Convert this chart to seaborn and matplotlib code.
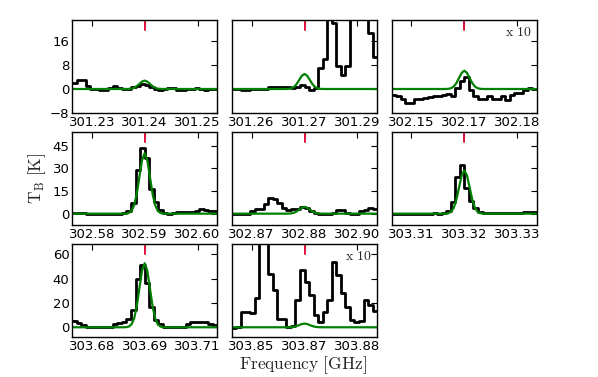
import numpy as np
import seaborn as sns
import matplotlib.pyplot as plt

# line rest frequencies (GHz), one per panel
centres = [301.240, 301.270, 302.170, 302.590, 302.880, 303.320, 303.690, 303.870]
tick_labels = [
    ["301.23", "301.24", "301.25"],
    ["301.26", "301.27", "301.29"],
    ["302.15", "302.17", "302.18"],
    ["302.58", "302.59", "302.60"],
    ["302.87", "302.88", "302.90"],
    ["303.31", "303.32", "303.33"],
    ["303.68", "303.69", "303.71"],
    ["303.85", "303.87", "303.88"],
]
scaled = [False, False, True, False, False, False, False, True]  # "x 10" panels

# observed spectra, 32 channels across each panel (K)
obs1 = [2, 3, 3, 1, 0, 0, -0.3, -0.3, 0.3, 1, 0.3, 0, 0, 0.5, 1, 1.5,
        1.3, 0.5, 0, -0.2, 0, 0.3, 0.2, -0.2, -0.3, 0, 0, 0.2, 0, -0.2, 0, 0]
obs2 = [0, 0, -0.2, -0.2, 0, 0, 0, 0, 0.5, 0.7, 0.8, 0.7, 0.5, 0.3, 0.8, 1.3,
        0.8, -0.2, 0.3, 7, 10, 30, 22, 7.5, 4.5, 7.5, 40, 40, 40, 40, 18.5, 10.5]
obs3 = [-1.9, -2.5, -3.3, -4.5, -4.5, -3.5, -3.3, -3.0, -2.7, -2.2, -2.5, -2.0,
        -1.8, -2.4, 0.2, 2.5, 4.0, -0.5, -2.3, -3.2, -3.5, -2.5, -3.3, -3.5,
        -2.5, -3.6, -2.0, -1.4, -1.2, -0.3, 0.3, 0]
obs4 = [0.5, 0.5, 0.3, 0, 0, -0.2, -0.5, -0.5, -0.5, -0.3, 0, 0.2, 1.5, 7, 29, 43.5,
        37, 16, 8, 2.5, 0.5, 0, 0.3, 1.2, 1.3, 1.0, 1.3, 1.5, 2.8, 2.5, 1.8, 1.8]
obs5 = [0, -0.3, -0.3, 0, 2, 2.9, 3.2, 6.7, 10.3, 9.5, 7, 4, 2.2, 2.9, 2.9, 4.5,
        3.6, 2, 0.3, 0, 0, -0.2, 0.5, 2.2, 2.2, 0.3, 0, 0, 2, 2.4, 3.6, 2.9]
obs6 = [0, -0.2, -0.3, -0.3, 0, 0, -0.2, 0, 0, 0.2, 0, 0.3, 1.5, 8, 24, 32,
        17, 8.5, 3.5, 1.3, 0.5, 0.2, 0.2, 0.2, 0.2, 0.2, 0.2, 0.2, 0.2, 1.3, 1.3, 0.8]
obs7 = [5.2, 3.5, 1.5, 0.3, 0, 0, 0, 0, 0, 2.5, 3.8, 4.5, 6.5, 14, 40, 51,
        36, 17, 6, 3, 0.5, 0, 0, 0, 0, 3, 4.7, 4.2, 4.7, 4.5, 3, 1.5]
obs8 = [-0.8, 0.3, 12.9, 12.9, 11.5, 24, 80, 80, 44, 31, 7, 7, 0, 1.4, 22.5, 47,
        37, 26.6, 10, 4.7, 12.9, 22.5, 54, 43, 28, 17, 6, 4.7, 5.5, 22.5, 18, 13.7]
observed = [obs1, obs2, obs3, obs4, obs5, obs6, obs7, obs8]

# model line profile (normalised) and its peak per panel
model_offsets = [-0.004, -0.0035, -0.003, -0.0025, -0.002, -0.0015, -0.001, -0.0005, 0,
                 0.0005, 0.001, 0.0015, 0.002, 0.0025, 0.003, 0.0035, 0.004]
model_shape = [0, 0.002, 0.011, 0.044, 0.135, 0.325, 0.607, 0.882, 1,
               0.882, 0.607, 0.325, 0.135, 0.044, 0.011, 0.002, 0]
model_peak = [2.8, 5.0, 6.1, 40, 4.5, 28.6, 52.7, 3.0]

row_ylim = [(-8, 23), (-7.5, 54), (-8, 68.5)]
row_yticks = [[-8, 0, 8, 16], [0, 15, 30, 45], [0, 20, 40, 60]]

half = 0.01375
nchan = 32

sns.set_style("white")
plt.rcParams["mathtext.fontset"] = "cm"
plt.rcParams["font.family"] = ["DejaVu Sans"]

fig, axes = plt.subplots(3, 3, figsize=(5.98, 3.77), dpi=100)
fig.subplots_adjust(left=0.1204, right=0.898, bottom=0.1061, top=0.947,
                    wspace=0.0998, hspace=0.204)
axes[2, 2].remove()

for i, c in enumerate(centres):
    row, col = divmod(i, 3)
    ax = axes[row, col]
    edges = c - half + np.arange(nchan + 1) * (2 * half / nchan)
    yobs = list(observed[i]) + [observed[i][-1]]
    sns.lineplot(x=edges, y=yobs, ax=ax, color="black", lw=2,
                 drawstyle="steps-post", estimator=None, sort=False)
    xm = [c - half] + [c + o for o in model_offsets] + [c + half]
    ym = [0] + [model_peak[i] * s for s in model_shape] + [0]
    sns.lineplot(x=xm, y=ym, ax=ax, color="green", lw=1.6,
                 estimator=None, sort=False)
    ax.axvline(c, ymin=0.89, ymax=1.0, color="crimson", lw=1.4)

    ax.set_xlim(c - half, c + half)
    ax.set_ylim(*row_ylim[row])
    ax.set_xticks([c - 0.01, c, c + 0.01])
    ax.set_xticklabels(tick_labels[i])
    ax.set_yticks(row_yticks[row])
    if col != 0:
        ax.set_yticklabels([])
    ax.tick_params(direction="in", length=4, width=0.8, top=True, right=True,
                   labelsize=9.5, pad=1.8, colors="black")
    for sp in ax.spines.values():
        sp.set_color("black")
        sp.set_linewidth(1.0)
    if scaled[i]:
        ax.text(0.965, 0.87, r"$\mathrm{x\ 10}$", transform=ax.transAxes,
                ha="right", va="center", fontsize=10)

fig.text(0.062, 0.528, r"$\mathrm{T_B\ [K]}$", rotation=90, ha="center",
         va="center", fontsize=12.5)
fig.text(0.507, 0.031, r"$\mathrm{Frequency\ [GHz]}$", ha="center",
         va="center", fontsize=12.5)

fig.savefig("out.png", dpi=100)
